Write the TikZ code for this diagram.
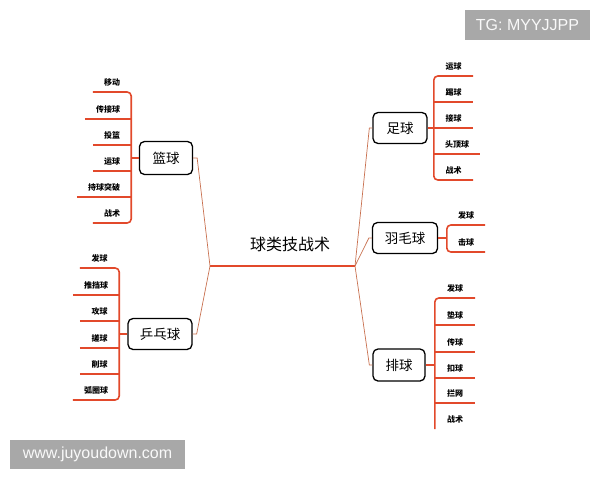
\documentclass[tikz,border=0pt]{standalone}
\usepackage{fontspec}
\setmainfont{Noto Sans CJK SC}
\newfontfamily\wmfont{Liberation Sans}
\usetikzlibrary{calc, positioning}
\definecolor{branchred}{HTML}{E2492B}
\definecolor{linkbrown}{HTML}{C8704F}
\definecolor{markgray}{HTML}{A8A8A8}
\tikzstyle{topic} = [draw, rounded corners=5pt, line width=1.3pt, fill=white, inner sep=0pt, font=\fontsize{13.5}{13.5}\selectfont]
\tikzstyle{leaf} = [anchor=south, minimum height=19pt, inner sep=0pt, font=\fontsize{8}{8}\selectfont\bfseries]
\tikzstyle{branch} = [draw=branchred, line width=1.6pt, rounded corners=4pt]
\tikzstyle{link} = [draw=linkbrown, line width=0.7pt]
\tikzstyle{wmark} = [fill=markgray, text=white!95!gray, inner sep=0pt, font=\wmfont\fontsize{16}{16}\selectfont]

\begin{document}
\begin{tikzpicture}[x=1pt, y=-1pt]

  \useasboundingbox (0,0) rectangle (600,480);

  % centre
  \node[font=\fontsize{16}{16}\selectfont] (title) at (290,244) {球类技战术};
  \coordinate (jl) at (210,266);
  \coordinate (jr) at (355,266);
  \draw[draw=branchred, line width=2.8pt] (jl) -- (jr);

  % topics
  \node[topic, minimum width=53pt, minimum height=33pt] (lq) at (166,158) {篮球};
  \node[topic, minimum width=64pt, minimum height=31pt] (ppq) at (160,334) {乒乓球};
  \node[topic, minimum width=54pt, minimum height=31pt] (zq) at (400,128) {足球};
  \node[topic, minimum width=65pt, minimum height=31pt] (ymq) at (405,238) {羽毛球};
  \node[topic, minimum width=52pt, minimum height=32pt] (pq) at (399,365) {排球};

  \draw[link] (lq.east) -- ++(4,0) -- (jl);
  \draw[link] (ppq.east) -- ++(4,0) -- (jl);
  \draw[link] (zq.west) -- ++(-3,0) -- (jr);
  \draw[link] (ymq.west) -- ++(-3,0) -- (jr);
  \draw[link] (pq.west) -- ++(-3,0) -- (jr);

  % 篮球
  \node[leaf, minimum width=38pt] (lq1) at (112,92) {移动};
  \node[leaf, minimum width=46pt] (lq2) at (108,119) {传接球};
  \node[leaf, minimum width=38pt] (lq3) at (112,145) {投篮};
  \node[leaf, minimum width=38pt] (lq4) at (112,171) {运球};
  \node[leaf, minimum width=54pt] (lq5) at (104,197) {持球突破};
  \node[leaf, minimum width=38pt] (lq6) at (112,223) {战术};
  \draw[branch] (lq1.south west) -- (lq1.south east) -- (lq6.south east) -- (lq6.south west);
  \foreach \n in {2,...,5} \draw[branch] (lq\n.south west) -- (lq\n.south east);
  \draw[branch] (lq.west) -- (lq.west -| lq1.south east);

  % 乒乓球
  \node[leaf, minimum width=39pt] (ppq1) at (99.5,268) {发球};
  \node[leaf, minimum width=46pt] (ppq2) at (96,295) {推挡球};
  \node[leaf, minimum width=39pt] (ppq3) at (99.5,321) {攻球};
  \node[leaf, minimum width=39pt] (ppq4) at (99.5,348) {搓球};
  \node[leaf, minimum width=39pt] (ppq5) at (99.5,374) {削球};
  \node[leaf, minimum width=46pt] (ppq6) at (96,400) {弧圈球};
  \draw[branch] (ppq1.south west) -- (ppq1.south east) -- (ppq6.south east) -- (ppq6.south west);
  \foreach \n in {2,...,5} \draw[branch] (ppq\n.south west) -- (ppq\n.south east);
  \draw[branch] (ppq.west) -- (ppq.west -| ppq1.south east);

  % 足球
  \node[leaf, minimum width=39pt] (zq1) at (453.5,76) {运球};
  \node[leaf, minimum width=39pt] (zq2) at (453.5,102) {踢球};
  \node[leaf, minimum width=39pt] (zq3) at (453.5,128) {接球};
  \node[leaf, minimum width=46pt] (zq4) at (457,154) {头顶球};
  \node[leaf, minimum width=39pt] (zq5) at (453.5,180) {战术};
  \draw[branch] (zq1.south east) -- (zq1.south west) -- (zq5.south west) -- (zq5.south east);
  \foreach \n in {2,...,4} \draw[branch] (zq\n.south west) -- (zq\n.south east);
  \draw[branch] (zq.east) -- (zq.east -| zq1.south west);

  % 羽毛球
  \node[leaf, minimum width=38pt] (ymq1) at (466,225) {发球};
  \node[leaf, minimum width=38pt] (ymq2) at (466,252) {击球};
  \draw[branch] (ymq1.south east) -- (ymq1.south west) -- (ymq2.south west) -- (ymq2.south east);
  \draw[branch] (ymq.east) -- (ymq.east -| ymq1.south west);

  % 排球
  \node[leaf, minimum width=40pt] (pq1) at (455,298) {发球};
  \node[leaf, minimum width=40pt] (pq2) at (455,325) {垫球};
  \node[leaf, minimum width=40pt] (pq3) at (455,352) {传球};
  \node[leaf, minimum width=40pt] (pq4) at (455,378) {扣球};
  \node[leaf, minimum width=40pt] (pq5) at (455,403) {拦网};
  \node[leaf, minimum width=40pt] (pq6) at (455,429) {战术};
  \draw[branch] (pq1.south east) -- (pq1.south west) -- (pq6.south west);
  \foreach \n in {2,...,5} \draw[branch] (pq\n.south west) -- (pq\n.south east);
  \draw[branch] (pq.east) -- (pq.east -| pq1.south west);

  % watermarks
  \node[wmark, minimum width=125pt, minimum height=30pt] (tg) at (527.5,25) {TG: MYYJJPP};
  \node[wmark, minimum width=175pt, minimum height=29pt] (site) at (97.5,454.5) {www.juyoudown.com};

\end{tikzpicture}
\end{document}
